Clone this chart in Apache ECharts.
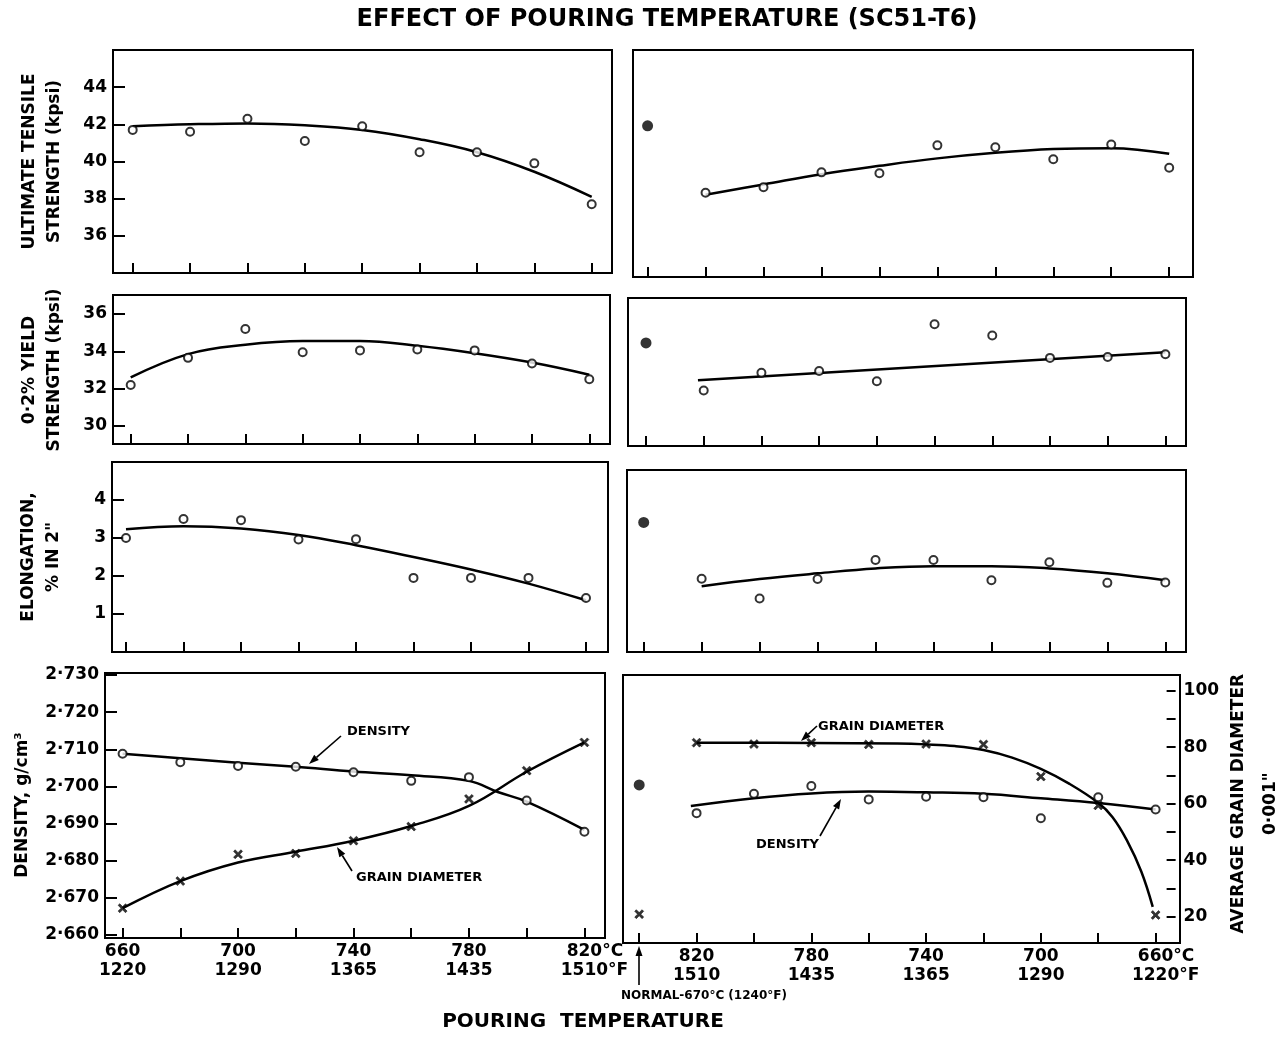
<!DOCTYPE html>
<html>
<head>
<meta charset="utf-8">
<title>Effect of pouring temperature (SC51-T6)</title>
<script src="https://cdn.jsdelivr.net/npm/echarts@6/dist/echarts.min.js"></script>
<style>
  html, body { margin: 0; background: #fff; }
  #chart { width: 1288px; height: 1037px; }
</style>
</head>
<body>
<div id="chart"></div>
<script>
// pouring temperatures, °C (left column rising, right column falling)
const tempUp = [660, 680, 700, 720, 740, 760, 780, 800, 820];
const tempDown = [820, 800, 780, 760, 740, 720, 700, 680, 660];
// the "normal" 670°C casting is plotted one step left of 820 in the right column
const normalSlot = 840;
const labelC = [660, 700, 740, 780, 820];
const labelF = { 660: '1220', 700: '1290', 740: '1365', 780: '1435', 820: '1510' };

// ultimate tensile strength (kpsi)
const utsUp = [41.7, 41.6, 42.3, 41.1, 41.9, 40.5, 40.5, 39.9, 37.7];
const utsCurveUp = [41.9, 42.0, 42.05, 41.95, 41.7, 41.2, 40.5, 39.45, 38.1];
const utsDown = [38.3, 38.6, 39.4, 39.35, 40.85, 40.75, 40.1, 40.9, 39.65];
const utsCurveDown = [38.2, 38.75, 39.3, 39.75, 40.15, 40.45, 40.65, 40.7, 40.4];
const utsNormal = 41.9;

// 0.2% yield strength (kpsi)
const yieldUp = [32.2, 33.65, 35.2, 33.95, 34.05, 34.1, 34.05, 33.35, 32.5];
const yieldCurveUp = [32.6, 33.85, 34.35, 34.55, 34.55, 34.3, 33.9, 33.4, 32.75];
const yieldDown = [31.9, 32.85, 32.95, 32.4, 35.45, 34.85, 33.65, 33.7, 33.85];
const yieldLineDown = [[822, 32.45], [660, 33.95]];
const yieldNormal = 34.45;

// elongation, % in 2"
const elongUp = [3.0, 3.5, 3.47, 2.96, 2.97, 1.95, 1.95, 1.95, 1.42];
const elongCurveUp = [3.23, 3.31, 3.25, 3.08, 2.81, 2.5, 2.17, 1.8, 1.36];
const elongDown = [1.93, 1.41, 1.92, 2.42, 2.42, 1.89, 2.36, 1.82, 1.83];
const elongCurveDown = [1.73, 1.92, 2.07, 2.2, 2.26, 2.26, 2.2, 2.07, 1.89];
const elongNormal = 3.41;

// density (g/cm3)
const densityUp = [2.7088, 2.7065, 2.7055, 2.7053, 2.7038, 2.7015, 2.7025, 2.6962, 2.6878];
const densityCurveUp = [[660, 2.7088], [680, 2.7076], [700, 2.7064], [720, 2.7053], [740, 2.704],
  [760, 2.703], [780, 2.7015], [790, 2.6985], [800, 2.6959], [820, 2.6883]];
const densityDown = [2.6928, 2.698, 2.7001, 2.6965, 2.6972, 2.6971, 2.6914, 2.6971, 2.6938];
const densityCurveDown = [[822, 2.6947], [800, 2.6968], [780, 2.6981], [760, 2.6986], [740, 2.6984],
  [720, 2.698], [700, 2.6968], [680, 2.6955], [660, 2.6938]];
const densityNormal = 2.7004;

// average grain diameter (0.001")
const grainUp = [23.0, 32.6, 42.1, 42.4, 46.9, 51.9, 61.7, 71.7, 81.7];
const grainCurveUp = [[660, 23], [680, 32.6], [700, 39.2], [720, 43.0], [740, 46.9], [760, 52.1],
  [780, 59.2], [800, 71.3], [820, 81.7]];
const grainDown = [81.6, 81.1, 81.6, 81.0, 81.1, 81.0, 69.6, 59.4, 20.6];
const grainCurveDown = [[820, 81.6], [780, 81.5], [750, 81.3], [740, 81.0], [730, 80.4], [720, 79.0],
  [710, 76.3], [700, 72.3], [690, 67.0], [680, 60.3], [675, 55.2], [670, 47.0], [665, 36.0], [661, 23.5]];
const grainNormal = 20.9;

const FONT = 'DejaVu Sans';
const CROSS = 'path://M0,1.8L1.8,0L5,3.2L8.2,0L10,1.8L6.8,5L10,8.2L8.2,10L5,6.8L1.8,10L0,8.2L3.2,5Z';

const pair = (xs, ys) => xs.map((x, i) => [x, ys[i]]);

const chart = echarts.init(document.getElementById('chart'));

// plotting areas span the tick range; the drawn frames are a little larger
const grids = [
  { left: 132.7, top: 50, width: 459, height: 223 },
  { left: 647.6, top: 50, width: 521.6, height: 227 },
  { left: 130.7, top: 314, width: 458.6, height: 112 },
  { left: 646, top: 298, width: 519.4, height: 148 },
  { left: 126, top: 462, width: 460, height: 190 },
  { left: 643.7, top: 470, width: 521.6, height: 182 },
  { left: 122.6, top: 675, width: 461.8, height: 260 },
  { left: 639.2, top: 690.7, width: 521.1, height: 226 }
];
const frames = [
  [113, 50, 499, 223], [633, 50, 560, 227],
  [113, 295, 497, 149], [628, 298, 558, 148],
  [112, 462, 496, 190], [627, 470, 559, 182],
  [105, 673, 500, 265], [623, 675, 557, 268]
];

const labelFont = { color: '#000', fontFamily: FONT, fontSize: 17, fontWeight: 'bold' };

function xAxis(gridIndex, right, offset, withLabels) {
  const last = right ? 660 : 820;
  return {
    type: 'value', gridIndex, min: 660, max: right ? normalSlot : 820, interval: 20, inverse: right,
    offset,
    axisLine: { show: false },
    splitLine: { show: false },
    axisTick: { show: true, inside: true, length: 10, lineStyle: { color: '#000', width: 2 } },
    axisLabel: withLabels ? Object.assign({}, labelFont, {
      margin: 4, lineHeight: 19,
      formatter: v => {
        if (labelC.indexOf(v) < 0) return '';
        return v === last
          ? '{h|°C}' + v + '°C\n{h|°F}' + labelF[v] + '°F'
          : v + '\n' + labelF[v];
      },
      rich: { h: { color: 'rgba(0,0,0,0)', fontFamily: FONT, fontSize: 17, fontWeight: 'bold', lineHeight: 19 } }
    }) : { show: false }
  };
}

function hiddenY(gridIndex, min, max, position) {
  return {
    type: 'value', gridIndex, min, max, position: position || 'left',
    axisLine: { show: false }, splitLine: { show: false },
    axisTick: { show: false }, axisLabel: { show: false }
  };
}

function yAxis(gridIndex, min, max, interval, opts) {
  return {
    type: 'value', gridIndex, min, max, interval,
    position: opts.position || 'left',
    offset: opts.offset || 0,
    axisLine: { show: false },
    splitLine: { show: false },
    axisTick: { show: true, inside: true, length: opts.tickLen || 12, lineStyle: { color: '#000', width: 2 } },
    axisLabel: Object.assign({}, labelFont, {
      margin: opts.margin || 6,
      showMinLabel: opts.edgeLabels !== false,
      showMaxLabel: opts.edgeLabels !== false,
      formatter: opts.formatter || (v => String(v))
    }),
    name: opts.name,
    nameLocation: 'middle',
    nameRotate: 90,
    nameGap: opts.nameGap,
    nameTextStyle: { color: '#000', fontFamily: FONT, fontSize: 17, fontWeight: 'bold', lineHeight: opts.nameLine || 25 }
  };
}

const xAxes = [
  xAxis(0, false, 0),
  xAxis(1, true, 0),
  xAxis(2, false, 18),
  xAxis(3, true, 0),
  xAxis(4, false, 0),
  xAxis(5, true, 0),
  xAxis(6, false, 3, true),
  xAxis(7, true, 26.3, true)
];

const densFmt = v => v.toFixed(3).replace('.', '·');
const yAxes = [
  yAxis(0, 34, 46, 2, { name: 'ULTIMATE TENSILE\nSTRENGTH (kpsi)', nameGap: 46, offset: 19.7, edgeLabels: false }),
  hiddenY(1, 33.78, 45.97),
  yAxis(2, 30, 36, 2, { name: '0·2% YIELD\nSTRENGTH (kpsi)', nameGap: 46, offset: 17.7 }),
  hiddenY(3, 28.93, 36.86),
  yAxis(4, 0, 5, 1, { name: 'ELONGATION,\n% IN 2"', nameGap: 46, offset: 14, edgeLabels: false }),
  hiddenY(5, 0, 4.79),
  yAxis(6, 2.66, 2.73, 0.01, { name: 'DENSITY, g/cm³', nameGap: 70, offset: 17.6, formatter: densFmt }),
  hiddenY(6, 13.52, 105.56, 'right'),
  hiddenY(7, 2.66491, 2.72577),
  yAxis(7, 20, 100, 10, { position: 'right', offset: 20, tickLen: 9, margin: 8, nameLine: 32,
    formatter: v => (v % 20 === 0 ? String(v) : ''),
    name: 'AVERAGE GRAIN DIAMETER\n0·001"', nameGap: 38 })
];

function curve(xi, yi, data) {
  return { type: 'line', xAxisIndex: xi, yAxisIndex: yi, data, smooth: 0.4, showSymbol: false, silent: true,
    lineStyle: { color: '#000', width: 2.5 }, z: 2 };
}
function circles(xi, yi, data) {
  return { type: 'scatter', xAxisIndex: xi, yAxisIndex: yi, data, symbol: 'circle', symbolSize: 8, silent: true,
    itemStyle: { color: '#fff', borderColor: '#000', borderWidth: 2 }, z: 3 };
}
function dot(xi, yi, value) {
  return { type: 'scatter', xAxisIndex: xi, yAxisIndex: yi, data: [[normalSlot, value]], symbol: 'circle',
    symbolSize: 11, silent: true, itemStyle: { color: '#000' }, z: 3 };
}
function crosses(xi, yi, data) {
  return { type: 'scatter', xAxisIndex: xi, yAxisIndex: yi, data, symbol: CROSS, symbolSize: 9, silent: true,
    itemStyle: { color: '#000', borderColor: '#000', borderWidth: 0.6 }, z: 3 };
}

const series = [
  curve(0, 0, pair(tempUp, utsCurveUp)), circles(0, 0, pair(tempUp, utsUp)),
  curve(1, 1, pair(tempDown, utsCurveDown)), circles(1, 1, pair(tempDown, utsDown)), dot(1, 1, utsNormal),

  curve(2, 2, pair(tempUp, yieldCurveUp)), circles(2, 2, pair(tempUp, yieldUp)),
  curve(3, 3, yieldLineDown), circles(3, 3, pair(tempDown, yieldDown)), dot(3, 3, yieldNormal),

  curve(4, 4, pair(tempUp, elongCurveUp)), circles(4, 4, pair(tempUp, elongUp)),
  curve(5, 5, pair(tempDown, elongCurveDown)), circles(5, 5, pair(tempDown, elongDown)), dot(5, 5, elongNormal),

  curve(6, 6, densityCurveUp), circles(6, 6, pair(tempUp, densityUp)),
  curve(6, 7, grainCurveUp), crosses(6, 7, pair(tempUp, grainUp)),
  curve(7, 8, densityCurveDown), circles(7, 8, pair(tempDown, densityDown)), dot(7, 8, densityNormal),
  curve(7, 9, grainCurveDown), crosses(7, 9, pair(tempDown, grainDown)),
  crosses(7, 9, [[normalSlot, grainNormal]])
];

// leader arrows and lettering
function arrow(x1, y1, x2, y2) {
  const a = Math.atan2(y2 - y1, x2 - x1), L = 10, W = 3.5;
  const bx = x2 - L * Math.cos(a), by = y2 - L * Math.sin(a);
  return [
    { type: 'line', shape: { x1, y1, x2: bx, y2: by }, style: { stroke: '#000', lineWidth: 1.6 } },
    { type: 'polygon', shape: { points: [[x2, y2], [bx - W * Math.sin(a), by + W * Math.cos(a)], [bx + W * Math.sin(a), by - W * Math.cos(a)]] },
      style: { fill: '#000' } }
  ];
}
function note(x, y, text, size, align) {
  return { type: 'text', x, y, style: { text, fill: '#000', font: 'bold ' + size + 'px "' + FONT + '"',
    align: align || 'left', verticalAlign: 'middle' } };
}

const graphic = frames.map(f => ({
  type: 'rect', shape: { x: f[0], y: f[1], width: f[2], height: f[3] }, z: 10,
  style: { fill: 'none', stroke: '#000', lineWidth: 2 }
})).concat([
  note(667, 20, 'EFFECT OF POURING TEMPERATURE (SC51-T6)', 24, 'center'),
  note(583, 1022, 'POURING  TEMPERATURE', 20, 'center'),
  note(621, 996, 'NORMAL-670°C (1240°F)', 12),
  note(347, 732, 'DENSITY', 13),
  note(356, 878, 'GRAIN DIAMETER', 13),
  note(818, 727, 'GRAIN DIAMETER', 13),
  note(756, 845, 'DENSITY', 13)
]).concat(
  arrow(639, 985, 639, 946),
  arrow(341, 736, 309, 764),
  arrow(352, 871, 337, 847),
  arrow(817, 726, 801, 741),
  arrow(820, 836, 841, 799)
);

chart.setOption({
  backgroundColor: '#fff',
  animation: false,
  grid: grids,
  xAxis: xAxes,
  yAxis: yAxes,
  series,
  graphic
});
</script>
</body>
</html>
